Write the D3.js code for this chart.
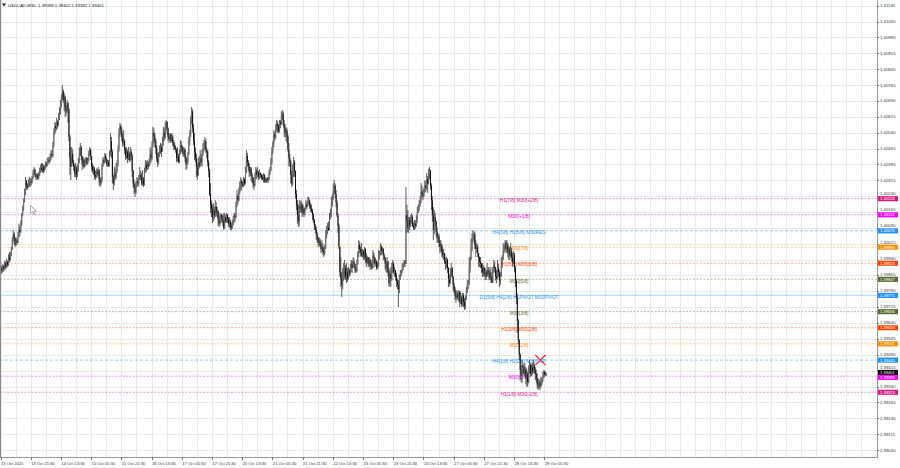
<!DOCTYPE html>
<html><head><meta charset="utf-8">
<script src="https://cdn.jsdelivr.net/npm/d3@7"></script>
<style>html,body{margin:0;padding:0;background:#fff;overflow:hidden}svg{display:block}</style>
</head><body><svg id="c" width="900" height="468"></svg>
<script>
const symbolTitle = "USDCAD,M30";
const lastOHLC = [1.39398, 1.39402, 1.39392, 1.39401];
const firstOpen = 1.39890;
const closes = [
1.39900,1.39885,1.39910,1.39895,1.39925,1.39905,1.39930,1.39915,1.39950,1.39940,
1.39960,1.39990,1.40030,1.40060,1.40040,1.40010,1.40030,1.40020,1.40050,1.40080,1.40070,
1.40110,1.40150,1.40180,1.40215,1.40260,1.40310,1.40290,1.40280,1.40300,1.40295,1.40310,
1.40305,1.40325,1.40350,1.40365,1.40340,1.40330,1.40345,1.40325,1.40340,1.40360,1.40375,
1.40365,1.40380,1.40360,1.40370,1.40390,1.40385,1.40400,1.40410,1.40405,1.40420,
1.40440,1.40430,1.40480,1.40540,1.40570,1.40560,1.40590,1.40575,1.40610,1.40640,1.40670,
1.40700,1.40735,1.40690,1.40710,1.40660,1.40640,1.40680,1.40650,1.40520,1.40420,1.40380,
1.40440,1.40400,1.40380,1.40350,1.40370,1.40340,1.40365,1.40400,1.40450,1.40470,1.40430,
1.40390,1.40410,1.40380,1.40400,1.40420,1.40395,1.40410,1.40440,1.40460,1.40430,
1.40380,1.40360,1.40370,1.40340,1.40330,1.40355,1.40345,1.40365,1.40320,1.40300,1.40310,
1.40380,1.40410,1.40400,1.40430,1.40415,1.40390,1.40400,1.40385,1.40440,1.40500,
1.40450,1.40330,1.40300,1.40350,1.40330,1.40360,1.40390,1.40460,1.40540,1.40570,1.40550,
1.40520,1.40490,1.40500,1.40460,1.40430,1.40450,1.40420,1.40440,1.40410,1.40450,1.40430,
1.40360,1.40300,1.40280,1.40260,1.40290,1.40310,1.40300,1.40320,1.40340,1.40330,
1.40300,1.40320,1.40295,1.40360,1.40390,1.40370,1.40395,1.40380,1.40400,1.40440,1.40420,
1.40480,1.40540,1.40520,1.40500,1.40470,1.40420,1.40400,1.40430,1.40460,1.40470,1.40450,
1.40500,1.40540,1.40520,1.40570,1.40590,1.40560,1.40520,1.40510,1.40530,1.40500,1.40520,
1.40490,1.40480,1.40470,1.40460,1.40420,1.40430,1.40400,1.40440,1.40480,1.40470,
1.40450,1.40440,1.40460,1.40420,1.40390,1.40400,1.40440,1.40500,1.40530,1.40600,1.40640,
1.40560,1.40500,1.40450,1.40420,1.40380,1.40340,1.40400,1.40380,1.40420,1.40400,
1.40440,1.40470,1.40480,1.40500,1.40460,1.40450,1.40400,1.40360,1.40250,1.40200,1.40180,
1.40140,1.40170,1.40150,1.40190,1.40160,1.40170,1.40130,1.40110,1.40140,1.40150,1.40130,
1.40120,1.40090,1.40140,1.40120,1.40150,1.40130,1.40110,1.40120,1.40100,1.40090,1.40110,
1.40130,1.40150,1.40140,1.40200,1.40240,1.40220,1.40260,1.40290,1.40310,1.40300,
1.40290,1.40320,1.40300,1.40360,1.40430,1.40400,1.40380,1.40350,1.40370,1.40340,1.40330,
1.40300,1.40290,1.40330,1.40360,1.40340,1.40350,1.40330,1.40350,1.40340,1.40330,1.40320,
1.40340,1.40310,1.40320,1.40310,1.40325,1.40315,1.40350,1.40360,1.40400,1.40450,
1.40490,1.40530,1.40520,1.40560,1.40580,1.40570,1.40550,1.40590,1.40580,1.40620,1.40630,
1.40580,1.40560,1.40540,1.40550,1.40520,1.40460,1.40420,1.40400,1.40340,1.40300,1.40370,
1.40400,1.40360,1.40250,1.40200,1.40150,1.40120,1.40190,1.40180,1.40200,1.40160,1.40180,
1.40160,1.40175,1.40200,1.40190,1.40210,1.40220,1.40195,1.40180,1.40170,1.40150,1.40130,
1.40100,1.40080,1.40060,1.40040,1.40020,1.40030,1.40010,1.39990,1.40000,1.39980,1.39970,
1.40000,1.40050,1.40070,1.40090,1.40080,1.40130,1.40150,1.40200,1.40230,1.40270,
1.40290,1.40250,1.40210,1.40150,1.40100,1.40000,1.39880,1.39850,1.39820,1.39860,1.39880,
1.39900,1.39860,1.39880,1.39850,1.39890,1.39870,1.39900,1.39920,1.39900,1.39930,1.39920,
1.39895,1.39885,1.39920,1.39970,1.40010,1.39990,1.39975,1.39960,1.39980,1.39960,
1.39990,1.39950,1.39930,1.39950,1.39920,1.39940,1.39910,1.39920,1.39900,1.39960,1.39950,
1.39920,1.39930,1.39900,1.39910,1.39950,1.39970,1.40000,1.39980,1.39990,1.39960,1.39950,
1.39920,1.39900,1.39930,1.39880,1.39830,1.39870,1.39850,1.39900,1.39920,1.39880,1.39890,
1.39860,1.39840,1.39820,1.39800,1.39860,1.39870,1.39880,1.39900,1.39910,1.39930,1.39920,
1.40150,1.40120,1.40090,1.40130,1.40100,1.40120,1.40140,1.40100,1.40090,1.40110,1.40100,
1.40130,1.40160,1.40180,1.40200,1.40220,1.40260,1.40250,1.40240,1.40260,1.40290,1.40280,
1.40320,1.40300,1.40350,1.40360,1.40290,1.40220,1.40150,1.40080,1.40140,1.40120,
1.40070,1.40040,1.40050,1.40020,1.40000,1.40010,1.39980,1.39960,1.39970,1.39930,1.39920,
1.39940,1.39900,1.39850,1.39830,1.39880,1.39900,1.39860,1.39820,1.39800,1.39770,1.39760,
1.39780,1.39760,1.39790,1.39740,1.39760,1.39730,1.39770,1.39740,1.39720,1.39760,1.39790,
1.39820,1.39830,1.39900,1.39940,1.39990,1.40040,1.40050,1.40060,1.40010,1.39990,
1.40000,1.39970,1.39950,1.39930,1.39920,1.39900,1.39880,1.39900,1.39870,1.39880,1.39860,
1.39890,1.39870,1.39880,1.39850,1.39860,1.39830,1.39890,1.39910,1.39900,1.39860,1.39850,
1.39900,1.39880,1.39840,1.39860,1.39910,1.39940,1.39980,1.40000,1.40020,1.39990,1.40010,
1.39970,1.39990,1.39960,1.39980,1.39950,1.39930,1.39960,1.39900,1.39840,1.39760,1.39650,
1.39560,1.39490,1.39420,1.39390,1.39440,1.39430,1.39400,1.39420,1.39380,1.39400,1.39360,
1.39420,1.39440,1.39400,1.39430,1.39410,1.39440,1.39420,1.39400,1.39380,1.39350,1.39340,
1.39360,1.39340,1.39350,1.39370,1.39390,1.39410,1.39395,1.39398,1.39401];
const highs = [
1.39915,1.39910,1.39920,1.39915,1.39935,1.39930,1.39945,1.39935,1.39965,1.39975,
1.39975,1.40000,1.40045,1.40080,1.40070,1.40045,1.40045,1.40040,1.40070,1.40110,1.40100,
1.40125,1.40160,1.40195,1.40230,1.40275,1.40330,1.40316,1.40300,1.40320,1.40330,1.40325,
1.40325,1.40335,1.40365,1.40378,1.40370,1.40345,1.40349,1.40345,1.40355,1.40375,1.40390,
1.40396,1.40395,1.40390,1.40385,1.40405,1.40400,1.40420,1.40425,1.40425,1.40440,
1.40458,1.40455,1.40495,1.40560,1.40586,1.40590,1.40610,1.40600,1.40633,1.40660,1.40694,
1.40720,1.40765,1.40745,1.40727,1.40715,1.40670,1.40694,1.40685,1.40655,1.40530,1.40472,
1.40472,1.40460,1.40411,1.40390,1.40396,1.40380,1.40390,1.40420,1.40470,1.40491,1.40480,
1.40430,1.40425,1.40420,1.40415,1.40425,1.40425,1.40420,1.40455,1.40472,1.40465,
1.40430,1.40396,1.40385,1.40378,1.40360,1.40370,1.40370,1.40378,1.40365,1.40330,1.40330,
1.40395,1.40425,1.40420,1.40444,1.40440,1.40420,1.40411,1.40410,1.40455,1.40538,
1.40520,1.40460,1.40340,1.40380,1.40370,1.40396,1.40410,1.40480,1.40560,1.40586,1.40580,
1.40565,1.40535,1.40552,1.40510,1.40472,1.40470,1.40460,1.40472,1.40450,1.40472,1.40460,
1.40440,1.40363,1.40320,1.40300,1.40310,1.40330,1.40325,1.40340,1.40378,1.40360,
1.40350,1.40363,1.40330,1.40375,1.40411,1.40405,1.40411,1.40405,1.40420,1.40472,1.40460,
1.40500,1.40567,1.40560,1.40538,1.40510,1.40480,1.40444,1.40450,1.40480,1.40491,1.40485,
1.40520,1.40567,1.40560,1.40590,1.40600,1.40595,1.40565,1.40538,1.40538,1.40535,1.40538,
1.40530,1.40505,1.40495,1.40480,1.40465,1.40472,1.40440,1.40460,1.40505,1.40500,
1.40480,1.40472,1.40472,1.40465,1.40430,1.40420,1.40450,1.40520,1.40552,1.40620,1.40661,
1.40650,1.40580,1.40538,1.40470,1.40440,1.40395,1.40420,1.40430,1.40458,1.40440,
1.40460,1.40491,1.40505,1.40519,1.40510,1.40470,1.40458,1.40410,1.40370,1.40302,1.40220,
1.40200,1.40207,1.40190,1.40221,1.40210,1.40190,1.40174,1.40150,1.40160,1.40160,1.40155,
1.40150,1.40160,1.40160,1.40150,1.40160,1.40155,1.40141,1.40141,1.40130,1.40115,1.40127,
1.40145,1.40160,1.40160,1.40215,1.40269,1.40250,1.40280,1.40310,1.40330,1.40320,
1.40310,1.40330,1.40325,1.40380,1.40458,1.40445,1.40411,1.40395,1.40378,1.40378,1.40350,
1.40330,1.40320,1.40350,1.40378,1.40370,1.40378,1.40360,1.40365,1.40349,1.40345,1.40340,
1.40349,1.40345,1.40330,1.40325,1.40330,1.40330,1.40365,1.40378,1.40420,1.40472,
1.40500,1.40552,1.40545,1.40580,1.40600,1.40595,1.40580,1.40600,1.40600,1.40640,1.40647,
1.40640,1.40600,1.40580,1.40567,1.40560,1.40530,1.40491,1.40440,1.40411,1.40360,1.40390,
1.40425,1.40410,1.40360,1.40270,1.40221,1.40200,1.40221,1.40215,1.40221,1.40210,1.40200,
1.40188,1.40185,1.40221,1.40215,1.40236,1.40236,1.40225,1.40207,1.40200,1.40180,1.40160,
1.40127,1.40110,1.40094,1.40070,1.40046,1.40046,1.40040,1.40020,1.40032,1.40018,1.40000,
1.40010,1.40079,1.40100,1.40113,1.40120,1.40160,1.40180,1.40236,1.40250,1.40300,
1.40316,1.40300,1.40269,1.40220,1.40160,1.40110,1.40000,1.39952,1.39880,1.39900,1.39924,
1.39938,1.39915,1.39924,1.39900,1.39905,1.39895,1.39920,1.39938,1.39935,1.39952,1.39945,
1.39920,1.39905,1.39938,1.39980,1.40032,1.40025,1.40000,1.40018,1.39990,1.39985,
1.39999,1.39995,1.39971,1.39960,1.39952,1.39952,1.39945,1.39938,1.39930,1.39985,1.39975,
1.39952,1.39945,1.39938,1.39930,1.39985,1.39980,1.40018,1.40010,1.39999,1.39995,1.39970,
1.39952,1.39935,1.39952,1.39935,1.39900,1.39890,1.39905,1.39925,1.39938,1.39930,1.39905,
1.39890,1.39877,1.39850,1.39843,1.39870,1.39891,1.39891,1.39924,1.39920,1.39938,1.39938,
1.40283,1.40200,1.40174,1.40141,1.40141,1.40150,1.40160,1.40150,1.40115,1.40127,1.40125,
1.40150,1.40188,1.40200,1.40221,1.40240,1.40302,1.40290,1.40269,1.40280,1.40316,1.40310,
1.40349,1.40335,1.40370,1.40378,1.40365,1.40300,1.40240,1.40188,1.40174,1.40160,
1.40125,1.40094,1.40065,1.40060,1.40032,1.40032,1.40015,1.39999,1.39990,1.39971,1.39950,
1.39952,1.39945,1.39905,1.39870,1.39900,1.39924,1.39905,1.39858,1.39830,1.39810,1.39790,
1.39796,1.39790,1.39796,1.39790,1.39782,1.39770,1.39782,1.39782,1.39760,1.39770,1.39810,
1.39843,1.39845,1.39952,1.39955,1.40040,1.40065,1.40079,1.40075,1.40070,1.40032,
1.40018,1.40010,1.39971,1.39955,1.39952,1.39925,1.39924,1.39915,1.39905,1.39900,1.39890,
1.39924,1.39905,1.39905,1.39895,1.39905,1.39880,1.39905,1.39938,1.39930,1.39905,1.39891,
1.39938,1.39920,1.39891,1.39880,1.39952,1.39960,1.40018,1.40010,1.40032,1.40030,1.40032,
1.40020,1.39999,1.40000,1.40018,1.39995,1.39970,1.39980,1.39971,1.39910,1.39850,1.39780,
1.39660,1.39565,1.39498,1.39440,1.39465,1.39451,1.39440,1.39451,1.39432,1.39425,1.39410,
1.39440,1.39465,1.39451,1.39445,1.39451,1.39465,1.39450,1.39432,1.39420,1.39404,1.39380,
1.39371,1.39375,1.39385,1.39385,1.39410,1.39418,1.39415,1.39410,1.39402];
const lows = [
1.39870,1.39875,1.39880,1.39885,1.39890,1.39895,1.39900,1.39905,1.39910,1.39925,
1.39935,1.39955,1.39985,1.40025,1.40010,1.40000,1.40005,1.40010,1.40018,1.40045,1.40050,
1.40065,1.40100,1.40145,1.40170,1.40210,1.40245,1.40270,1.40270,1.40280,1.40283,1.40285,
1.40290,1.40300,1.40320,1.40340,1.40330,1.40316,1.40320,1.40316,1.40320,1.40335,1.40350,
1.40355,1.40350,1.40349,1.40355,1.40365,1.40375,1.40380,1.40395,1.40390,1.40400,
1.40411,1.40420,1.40425,1.40470,1.40530,1.40540,1.40552,1.40560,1.40570,1.40600,1.40625,
1.40660,1.40695,1.40680,1.40640,1.40614,1.40620,1.40633,1.40586,1.40500,1.40340,1.40316,
1.40378,1.40390,1.40360,1.40330,1.40330,1.40316,1.40330,1.40355,1.40395,1.40430,1.40410,
1.40363,1.40375,1.40370,1.40378,1.40390,1.40385,1.40390,1.40405,1.40430,1.40411,
1.40360,1.40349,1.40340,1.40320,1.40316,1.40325,1.40330,1.40335,1.40290,1.40283,1.40290,
1.40305,1.40378,1.40390,1.40395,1.40400,1.40380,1.40378,1.40378,1.40380,1.40430,
1.40420,1.40300,1.40269,1.40290,1.40316,1.40320,1.40350,1.40380,1.40450,1.40519,1.40530,
1.40500,1.40472,1.40480,1.40440,1.40411,1.40415,1.40396,1.40410,1.40400,1.40405,1.40411,
1.40330,1.40280,1.40250,1.40236,1.40250,1.40283,1.40283,1.40290,1.40316,1.40316,
1.40290,1.40290,1.40283,1.40290,1.40349,1.40355,1.40363,1.40365,1.40378,1.40390,1.40400,
1.40410,1.40470,1.40490,1.40470,1.40440,1.40400,1.40378,1.40390,1.40425,1.40440,1.40425,
1.40450,1.40480,1.40500,1.40510,1.40550,1.40530,1.40500,1.40491,1.40500,1.40491,1.40495,
1.40475,1.40458,1.40458,1.40445,1.40400,1.40405,1.40396,1.40395,1.40435,1.40450,
1.40440,1.40425,1.40430,1.40400,1.40363,1.40370,1.40390,1.40435,1.40480,1.40520,1.40580,
1.40540,1.40480,1.40411,1.40400,1.40330,1.40316,1.40335,1.40370,1.40378,1.40385,
1.40380,1.40430,1.40450,1.40460,1.40444,1.40420,1.40380,1.40330,1.40240,1.40160,1.40141,
1.40113,1.40120,1.40130,1.40141,1.40145,1.40140,1.40100,1.40094,1.40100,1.40113,1.40113,
1.40100,1.40079,1.40085,1.40113,1.40115,1.40113,1.40095,1.40090,1.40079,1.40079,1.40085,
1.40100,1.40113,1.40120,1.40135,1.40188,1.40200,1.40215,1.40250,1.40265,1.40270,
1.40283,1.40283,1.40290,1.40295,1.40349,1.40380,1.40360,1.40330,1.40335,1.40310,1.40302,
1.40280,1.40269,1.40285,1.40320,1.40320,1.40330,1.40316,1.40320,1.40325,1.40316,1.40316,
1.40305,1.40302,1.40302,1.40302,1.40305,1.40302,1.40316,1.40340,1.40360,1.40390,
1.40440,1.40472,1.40500,1.40510,1.40545,1.40540,1.40538,1.40540,1.40560,1.40575,1.40600,
1.40570,1.40519,1.40519,1.40500,1.40491,1.40450,1.40378,1.40380,1.40300,1.40283,1.40290,
1.40330,1.40330,1.40230,1.40174,1.40110,1.40094,1.40100,1.40160,1.40165,1.40141,1.40150,
1.40141,1.40150,1.40174,1.40180,1.40188,1.40200,1.40180,1.40165,1.40160,1.40125,1.40113,
1.40080,1.40065,1.40032,1.40020,1.39999,1.40005,1.39999,1.39971,1.39975,1.39960,1.39952,
1.39960,1.39990,1.40040,1.40060,1.40075,1.40079,1.40130,1.40141,1.40190,1.40220,
1.40250,1.40230,1.40188,1.40140,1.40065,1.39990,1.39860,1.39810,1.39763,1.39800,1.39840,
1.39850,1.39843,1.39829,1.39835,1.39845,1.39858,1.39865,1.39880,1.39877,1.39900,1.39905,
1.39877,1.39877,1.39880,1.39915,1.39952,1.39970,1.39955,1.39952,1.39950,1.39938,
1.39940,1.39924,1.39905,1.39920,1.39905,1.39905,1.39891,1.39895,1.39891,1.39900,1.39924,
1.39905,1.39910,1.39891,1.39895,1.39905,1.39940,1.39960,1.39960,1.39970,1.39938,1.39935,
1.39891,1.39880,1.39877,1.39860,1.39810,1.39815,1.39810,1.39840,1.39877,1.39870,1.39858,
1.39840,1.39810,1.39800,1.39716,1.39780,1.39843,1.39860,1.39877,1.39890,1.39905,1.39905,
1.39920,1.40065,1.40070,1.40065,1.40080,1.40094,1.40110,1.40094,1.40079,1.40079,1.40085,
1.40095,1.40113,1.40160,1.40170,1.40190,1.40207,1.40230,1.40221,1.40235,1.40255,1.40260,
1.40270,1.40255,1.40295,1.40320,1.40270,1.40174,1.40120,1.40032,1.40060,1.40094,
1.40050,1.40018,1.40020,1.39999,1.39970,1.39975,1.39952,1.39945,1.39938,1.39920,1.39891,
1.39900,1.39877,1.39810,1.39815,1.39825,1.39858,1.39850,1.39790,1.39782,1.39750,1.39735,
1.39750,1.39749,1.39740,1.39716,1.39730,1.39716,1.39720,1.39715,1.39702,1.39705,1.39749,
1.39782,1.39800,1.39820,1.39877,1.39938,1.39980,1.40018,1.40030,1.39990,1.39952,
1.39975,1.39952,1.39905,1.39905,1.39900,1.39877,1.39858,1.39860,1.39858,1.39843,1.39843,
1.39860,1.39858,1.39843,1.39843,1.39829,1.39829,1.39840,1.39877,1.39880,1.39840,1.39829,
1.39850,1.39858,1.39810,1.39820,1.39860,1.39900,1.39938,1.39970,1.39980,1.39971,1.39975,
1.39950,1.39938,1.39938,1.39950,1.39930,1.39905,1.39920,1.39880,1.39810,1.39730,1.39593,
1.39540,1.39465,1.39371,1.39360,1.39357,1.39400,1.39385,1.39390,1.39350,1.39338,1.39340,
1.39355,1.39400,1.39385,1.39390,1.39395,1.39404,1.39400,1.39371,1.39360,1.39330,1.39323,
1.39330,1.39323,1.39335,1.39345,1.39360,1.39380,1.39385,1.39390,1.39392];

const priceTicks = [1.41140,1.41065,1.40990,1.40915,1.40840,1.40765,1.40690,1.40615,1.40540,1.40465,
1.40390,1.40315,1.40240,1.40165,1.40090,1.40015,1.39940,1.39865,1.39790,1.39715,1.39640,1.39565,
1.39490,1.39415,1.39340,1.39265,1.39190,1.39115,1.39040];
const timeTickLabels = ["13 Oct 2025","13 Oct 21:30","14 Oct 13:30","15 Oct 05:30","15 Oct 21:30","16 Oct 13:30",
"17 Oct 05:30","17 Oct 21:30","20 Oct 13:30","21 Oct 05:30","21 Oct 21:30","22 Oct 13:30","23 Oct 05:30",
"23 Oct 21:30","24 Oct 13:30","27 Oct 05:30","27 Oct 21:30","28 Oct 13:30","29 Oct 05:30"];

const levelPrices = [1.40228,1.40152,1.40076,1.39999,1.39923,1.39847,1.39771,1.39694,1.39618,1.39542,1.39465,1.39389,1.39313];
const levelNames = ["H1[7/8] M30[+2/8]","M30[+1/8]","H4[3/8] H1[6/8] M30RES","M30[7/8]","H1[5/8] M30[6/8]","M30[5/8]",
"D1[5/8] H4[2/8] H1PIVOT M30PIVOT","M30[3/8]","H1[3/8] M30[2/8]","M30[1/8]","H4[1/8] H1[2/8] M30SUP","M30[-1/8]","H1[1/8] M30[-2/8]"];
const levelColors = ["#d81b84","#ff00ff","#1e90ff","#ff8c00","#ff4500","#556b2f","#1e90ff","#556b2f","#ff4500","#ff8c00","#1e90ff","#ff00ff","#d81b84"];
const levelDash = ["2,1.5","2,1.5","3,2","2,1.5","2,1.5","2,1.5","","2,1.5","2,1.5","2,1.5","3,2","2,1.5","2,1.5"];
const currentPrice = 1.39401;
const signalMark = {bar: 572, price: 1.39465};

// ---------- layout ----------
const plotRight = 877, plotBottom = 457;
const svg = d3.select("#c");
const FONT = "'Liberation Sans', Arial, sans-serif";

// bar times (M30, weekdays only)
const times = [];
{ let t = Date.UTC(2025,9,13,5,30); const end = Date.UTC(2025,9,29,6,30);
  while (t <= end) { const d = new Date(t); const wd = d.getUTCDay(); if (wd !== 0 && wd !== 6) times.push(d); t += 1800000; } }
const fmtTime = d3.utcFormat("%d %b %H:%M");

const barW = 0.944;
const x = d3.scaleLinear().domain([0, times.length]).range([0.5, 0.5 + times.length * barW]);
const y = d3.scaleLinear().domain([1.39040, 1.41140]).range([450, 5.7]);

svg.append("rect").attr("width",900).attr("height",468).attr("fill","#fff");

// grid
const g = svg.append("g").attr("shape-rendering","crispEdges");
g.selectAll("line.h").data(priceTicks).join("line")
  .attr("x1",0).attr("x2",plotRight).attr("y1",d=>Math.round(y(d))+0.5).attr("y2",d=>Math.round(y(d))+0.5)
  .attr("stroke","#e9e9e9").attr("stroke-width",1);
const gridIdx = d3.range(0, Math.ceil((plotRight-0.5)/barW), 16);
g.selectAll("line.v").data(gridIdx).join("line")
  .attr("x1",d=>Math.round(x(d))+0.5).attr("x2",d=>Math.round(x(d))+0.5).attr("y1",0).attr("y2",plotBottom)
  .attr("stroke","#e9e9e9").attr("stroke-width",1);

// level lines
const lv = svg.append("g");
lv.selectAll("line").data(levelPrices).join("line")
  .attr("x1",0).attr("x2",plotRight).attr("y1",d=>y(d)).attr("y2",d=>y(d))
  .attr("stroke",(d,i)=>levelColors[i]).attr("stroke-opacity",(d,i)=>levelDash[i]===""?0.35:0.45)
  .attr("stroke-width",1).attr("stroke-dasharray",(d,i)=>levelDash[i]||null);
lv.selectAll("text").data(levelPrices).join("text")
  .attr("x",519).attr("y",d=>y(d)+3.3).attr("text-anchor","middle")
  .attr("font-family",FONT).attr("font-size",4.8).attr("fill",(d,i)=>levelColors[i])
  .text((d,i)=>levelNames[i]);

// candles
const bars = closes.map((c,i)=>{
  const o = i===0 ? firstOpen : closes[i-1];
  return {i, o, c, h: Math.max(highs[i], o, c), l: Math.min(lows[i], o, c)};
});
const cg = svg.append("g");
cg.selectAll("line").data(bars).join("line")
  .attr("x1",d=>x(d.i)+barW/2).attr("x2",d=>x(d.i)+barW/2)
  .attr("y1",d=>y(d.h)).attr("y2",d=>y(d.l))
  .attr("stroke","#333").attr("stroke-width",0.8);
cg.selectAll("rect").data(bars).join("rect")
  .attr("x",d=>x(d.i)).attr("width",barW)
  .attr("y",d=>y(Math.max(d.o,d.c))).attr("height",d=>Math.max(0.6, Math.abs(y(d.o)-y(d.c))))
  .attr("fill",d=>d.c>=d.o ? "#6e6e6e" : "#0a0a0a");

// signal mark (red X)
{ const mx = x(signalMark.bar), my = y(signalMark.price), s = 4.8;
  const mg = svg.append("g").attr("stroke","#e8334f").attr("stroke-width",1.3).attr("stroke-linecap","round");
  mg.append("line").attr("x1",mx-s).attr("y1",my-s).attr("x2",mx+s).attr("y2",my+s);
  mg.append("line").attr("x1",mx-s).attr("y1",my+s).attr("x2",mx+s).attr("y2",my-s);
}

// axes frame
svg.append("rect").attr("x",plotRight).attr("y",0).attr("width",900-plotRight).attr("height",468).attr("fill","#fff");
svg.append("rect").attr("x",0).attr("y",plotBottom).attr("width",plotRight).attr("height",468-plotBottom).attr("fill","#fff");
const fr = svg.append("g").attr("shape-rendering","crispEdges").attr("stroke","#9a9a9a");
fr.append("line").attr("x1",plotRight+0.5).attr("x2",plotRight+0.5).attr("y1",0).attr("y2",plotBottom+0.5);
fr.append("line").attr("x1",0).attr("x2",plotRight+0.5).attr("y1",plotBottom+0.5).attr("y2",plotBottom+0.5);
fr.append("line").attr("x1",0.5).attr("x2",0.5).attr("y1",0).attr("y2",plotBottom).attr("stroke","#8a8a8a");

// price boxes: positions (with a small nudge where two boxes touch)
const boxes = levelPrices.map((p,i)=>({p, color: levelColors[i], order: i < levelPrices.length-2 ? 0 : 2}));
boxes.push({p: currentPrice, color: "#000", order: 1});
boxes.forEach(b => b.yc = y(b.p));
{ const sorted = boxes.slice().sort((a,b)=>a.yc-b.yc);
  for (let k=1;k<sorted.length;k++){
    const gap = sorted[k].yc - sorted[k-1].yc;
    if (gap < 5) { const push = (5-gap)/2; sorted[k-1].yc -= push; sorted[k].yc += push; }
  } }

// price axis: tick labels, kept clear of the boxes
const ax = svg.append("g");
ax.selectAll("line").data(priceTicks).join("line")
  .attr("x1",plotRight).attr("x2",plotRight+2).attr("y1",d=>Math.round(y(d))+0.5).attr("y2",d=>Math.round(y(d))+0.5)
  .attr("stroke","#777").attr("shape-rendering","crispEdges");
const tickLabelY = priceTicks.map(p=>{
  let yl = y(p);
  boxes.forEach(b=>{
    const d = yl - b.yc;
    if (Math.abs(d) < 4.9) yl = d < 0 ? b.yc - 4.9 : b.yc + 4.9;
  });
  return yl;
});
ax.selectAll("text").data(priceTicks).join("text")
  .attr("x",880).attr("y",(d,k)=>tickLabelY[k]+1.5)
  .attr("font-family",FONT).attr("font-size",4.3).attr("fill","#333")
  .text(d=>d.toFixed(5));

boxes.slice().sort((a,b)=>a.order-b.order).forEach(b=>{
  const gb = svg.append("g");
  gb.append("rect").attr("x",878).attr("y",b.yc-2.5).attr("width",20).attr("height",5.1).attr("fill",b.color);
  gb.append("text").attr("x",880).attr("y",b.yc+1.55).attr("font-family",FONT).attr("font-size",4.1)
    .attr("fill","#fff").text(b.p.toFixed(5));
});

// time axis
const tIdx = timeTickLabels.map((lab,k)=> k===0 ? 0 : times.findIndex(t=>fmtTime(t)===lab));
const tx = svg.append("g");
tx.selectAll("line").data(tIdx).join("line")
  .attr("x1",d=>Math.round(x(d))+0.5).attr("x2",d=>Math.round(x(d))+0.5)
  .attr("y1",plotBottom).attr("y2",plotBottom+2.5).attr("stroke","#777").attr("shape-rendering","crispEdges");
tx.selectAll("text").data(timeTickLabels).join("text")
  .attr("x",(d,k)=>x(tIdx[k])+0.5).attr("y",464.5)
  .attr("font-family",FONT).attr("font-size",4.1).attr("fill","#333")
  .text(d=>d);

// header
svg.append("path").attr("d","M2,3.5 L6,3.5 L4,6.5 Z").attr("fill","#222");
svg.append("text").attr("x",8).attr("y",7).attr("font-family",FONT).attr("font-size",4.3).attr("fill","#222")
  .attr("xml:space","preserve")
  .text(symbolTitle + "  " + lastOHLC.map(v=>v.toFixed(5)).join(" "));

// mouse cursor
svg.append("path").attr("transform","translate(30.5,205.5)")
  .attr("d","M0,0 L0,8 L2,6.2 L3.4,9 L4.5,8.5 L3.2,5.8 L5.8,5.8 Z")
  .attr("fill","#fff").attr("stroke","#777").attr("stroke-width",0.6);
</script>
</body></html>
